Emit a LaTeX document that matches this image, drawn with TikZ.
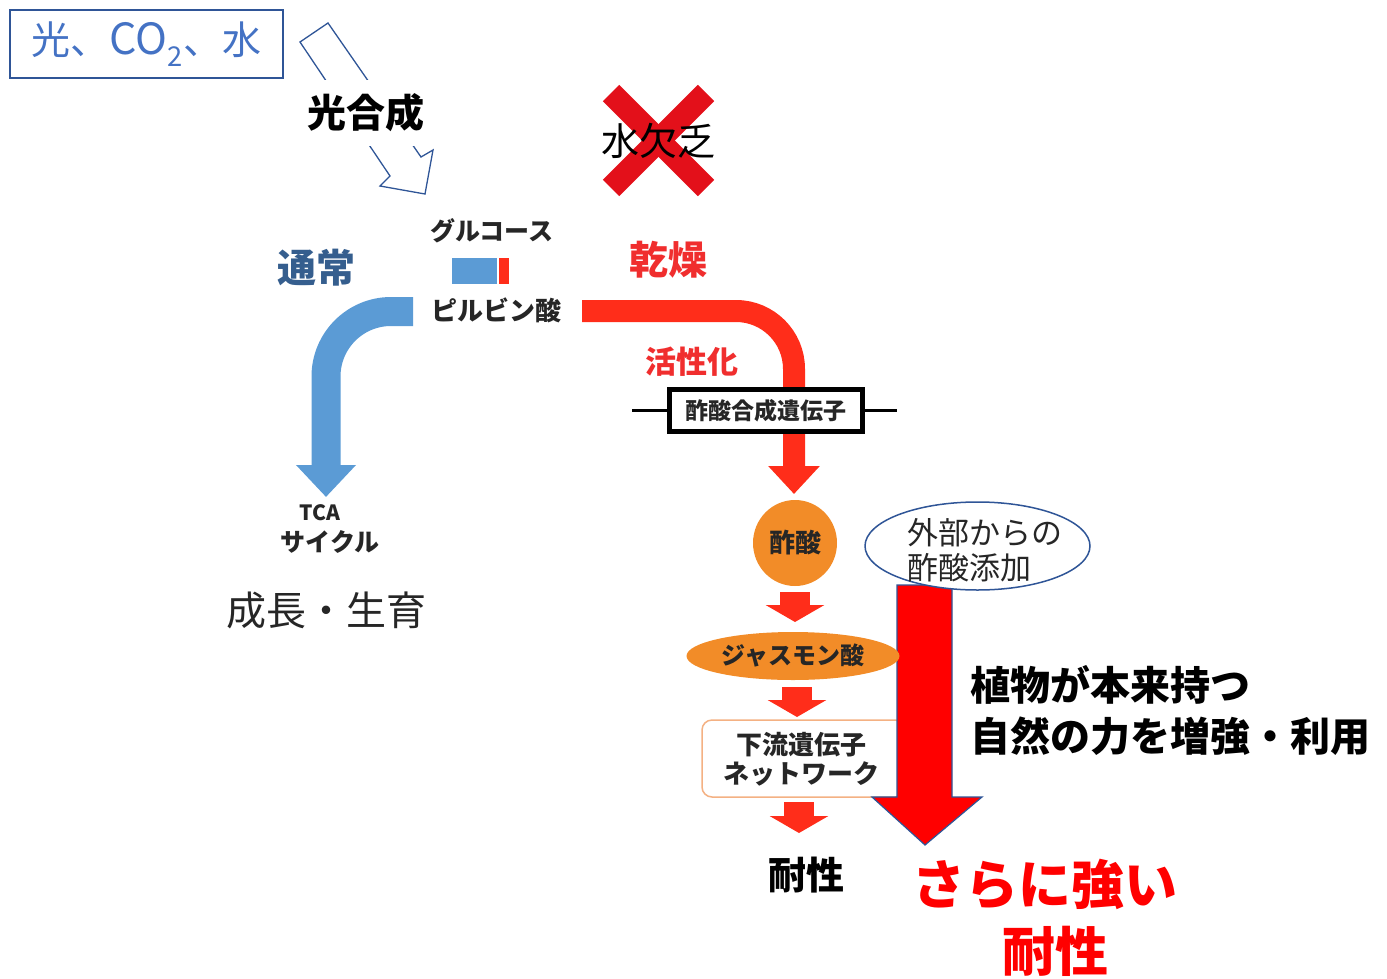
\documentclass[tikz,border=0pt]{standalone}
\usepackage{fontspec}
\setmainfont{Noto Sans CJK JP}
\usetikzlibrary{arrows.meta,shapes.geometric}
\definecolor{boxblue}{HTML}{4472C4}
\definecolor{boxborder}{HTML}{2F5597}
\definecolor{txt}{HTML}{262626}
\definecolor{tsujo}{HTML}{355E8E}
\definecolor{arrblue}{HTML}{5B9BD5}
\definecolor{arrred}{HTML}{FF2D1A}
\definecolor{xred}{HTML}{E3101A}
\definecolor{labred}{HTML}{F02E2E}
\definecolor{orng}{HTML}{F28C28}
\definecolor{lorng}{HTML}{F4B183}
\definecolor{pure}{HTML}{FF0000}
\tikzset{
  lab/.style={inner sep=0pt, text=txt},
  fs/.style={font=\fontsize{#1}{#1}\selectfont},
  bfs/.style={font=\bfseries\fontsize{#1}{#1}\selectfont},
  smallarr/.style={line width=30pt, arrred, -{Triangle[length=17pt,width=58pt]}},
}
\begin{document}
\begin{tikzpicture}[x=1pt,y=-1pt]
\useasboundingbox (0,0) rectangle (1387,978);

% input box
\node[inner sep=0pt, text=boxblue, draw=boxborder, line width=1.5pt, minimum width=273pt, minimum height=68pt, fs=39] (inputs) at (146.5,44) {光、{\fontsize{43}{43}\selectfont CO}\textsubscript{2}、水};

% hollow photosynthesis arrow
\draw[boxborder, line width=1.3pt, fill=white, line join=miter] (300,42) -- (390,176) -- (380,186) -- (425,194) -- (433,150) -- (421,157) -- (328,23) -- cycle;
\node[fill=white, inner xsep=3pt, inner ysep=0pt, minimum height=66pt, bfs=39, text=black] (photo) at (366,113) {光合成};

% water deficit with X
\draw[xred, line width=23pt] (611,93) -- (706,188);
\draw[xred, line width=23pt] (706,93) -- (611,188);
\node[lab, fs=38, text=black] (deficit) at (658,141) {水欠乏};

% glucose, bar, pyruvate
\node[lab, bfs=25] (glucose) at (492,231) {グルコース};
\fill[arrblue] (452,258) rectangle (497,284);
\fill[arrred] (499,258) rectangle (509,284);
\node[lab, bfs=26] (pyruvate) at (496,310) {ピルビン酸};

\node[lab, bfs=39, text=tsujo] (normal) at (316,268) {通常};
\node[lab, bfs=39, text=labred] (drought) at (668,260) {乾燥};

% blue path
\coordinate (bstart) at (413,311.5);
\coordinate (bend) at (326,497);
\draw[arrblue, line width=29pt, rounded corners=65pt, -{Triangle[length=32pt,width=58pt]}] (bstart) -- (326,311.5) -- (bend);
\node[lab, bfs=21] (tca) at (320,513) {TCA};
\node[lab, bfs=25] (cycle) at (330,542) {サイクル};
\node[lab, fs=40, text=txt] (growth) at (326,610) {成長・生育};

% red path
\coordinate (rstart) at (582,311);
\coordinate (rend) at (794,494);
\draw[arrred, line width=22pt, rounded corners=58pt, -{Triangle[length=28pt,width=50pt]}] (rstart) -- (794,311) -- (rend);
\node[lab, bfs=31, text=labred] (activ) at (692,362) {活性化};

% gene
\coordinate (gl) at (632,410);
\coordinate (gr) at (897,410);
\draw[line width=3pt, black] (gl) -- (gr);
\node[draw=black, line width=4.5pt, fill=white, minimum width=193pt, minimum height=42pt, inner sep=0pt, bfs=23, text=txt] (gene) at (766,410.5) {酢酸合成遺伝子};

% acetic acid
\node[ellipse, fill=orng, minimum width=84pt, minimum height=86pt, inner sep=0pt, bfs=26, text=txt] (acetic) at (795,543) {酢酸};

\coordinate (a1s) at (795,592);
\coordinate (a1e) at (795,622);
\draw[smallarr] (a1s) -- (a1e);

% downstream box (behind big arrow)
\node[draw=lorng, line width=1.5pt, fill=white, rounded corners=10pt, minimum width=203pt, minimum height=77pt, inner sep=0pt] (downbox) at (803.5,758.5) {};
\node[lab, align=center, font=\bfseries\fontsize{26}{29}\selectfont] (down) at (801,759) {下流遺伝子\\ネットワーク};

\coordinate (a2s) at (797,687);
\coordinate (a2e) at (797,717);
\draw[smallarr] (a2s) -- (a2e);
\coordinate (a3s) at (799,802);
\coordinate (a3e) at (799,833);
\draw[smallarr] (a3s) -- (a3e);

\node[lab, bfs=38, text=black] (tol) at (806,875) {耐性};

% big red arrow
\draw[fill=pure, draw=boxborder, line width=1.2pt, line join=miter] (897,585) -- (952,585) -- (952,797) -- (982,797) -- (925,845) -- (872,797) -- (897,797) -- cycle;

% jasmonic acid (over arrow)
\node[ellipse, fill=orng, minimum width=213pt, minimum height=48pt, inner sep=0pt, bfs=24, text=txt] (jasmonic) at (793,656) {ジャスモン酸};

% external ellipse
\node[ellipse, draw=boxborder, line width=1.5pt, fill=white, minimum width=225pt, minimum height=88pt, inner sep=0pt] (ext) at (977.5,546) {};
\node[lab, align=left, font=\fontsize{31}{35}\selectfont] (extt) at (984.5,550) {外部からの\\酢酸添加};

\node[lab, anchor=west, align=left, font=\bfseries\fontsize{40}{51}\selectfont, text=black] (nature) at (970,710) {植物が本来持つ\\自然の力を増強・利用};

\node[lab, bfs=53, text=pure] (stronger) at (1045,884) {さらに強い};
\node[lab, bfs=53, text=pure] (stronger2) at (1055,951) {耐性};
\end{tikzpicture}
\end{document}
